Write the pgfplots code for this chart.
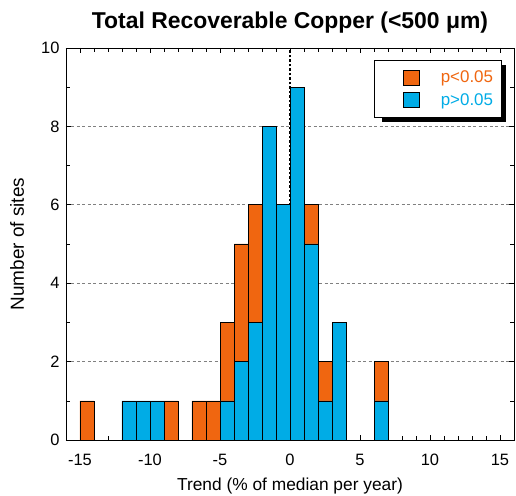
\documentclass[border=0pt]{standalone}
\usepackage{pgfplots}
\pgfplotsset{compat=1.18}
\usepackage{fontspec}
\setmainfont{Liberation Sans}
\pgfdeclarelayer{bg}
\pgfsetlayers{bg,main}
\definecolor{porange}{RGB}{240,102,16}
\definecolor{pblue}{RGB}{0,172,230}
\newcommand\mysq[1]{%
  \pgfpathmoveto{\pgfpoint{-23bp}{0bp}}\pgfpathlineto{\pgfpoint{16bp}{0bp}}\pgfusepath{discard}%
  \begin{pgfscope}\pgfsetfillcolor{#1}\pgfsetstrokecolor{black}\pgfsetlinewidth{0.6pt}%
  \pgfpathrectangle{\pgfpoint{0bp}{-7.5bp}}{\pgfpoint{16bp}{15bp}}\pgfusepath{fill,stroke}\end{pgfscope}}
\begin{document}
\begin{tikzpicture}[x=1bp,y=1bp]
\begin{axis}[
  name=ax,
  scale only axis,
  width=448bp, height=392bp,
  xmin=-16, xmax=16, ymin=0, ymax=10,
  xtick={-15,-10,-5,0,5,10,15},
  xticklabels={-15,-10,-5,0,5,10,15},
  ytick={0,2,4,6,8,10},
  yticklabels={0,2,4,6,8,10},
  minor x tick num=4,
  minor y tick num=1,
  tick align=inside,
  major tick length=5bp,
  minor tick length=4bp,
  tick style={black, line width=0.6pt},
  axis line style={black, line width=0.8pt},
  ymajorgrids,
  grid style={dash pattern=on 3bp off 2.5bp, gray, line width=0.6pt},
  tick label style={font=\fontsize{16.5}{19}\selectfont},
  xticklabel style={anchor=base, yshift=-25bp},
  yticklabel style={anchor=east, xshift=-3bp},
  xlabel={Trend (\% of median per year)},
  ylabel={Number of sites},
  every axis x label/.style={at={(axis description cs:0.5,-0.1276)}, anchor=base, font=\fontsize{17.4}{20}\selectfont},
  every axis y label/.style={at={(axis description cs:-0.109,0.5)}, rotate=90, anchor=center, font=\fontsize{19}{22}\selectfont},
  title={\bfseries Total Recoverable Copper (<500 μm)},
  every axis title/.style={at={(axis description cs:0.5,1.064)}, anchor=center, font=\fontsize{23}{27}\selectfont},
  ybar stacked,
  bar width=1,
  legend style={at={(0.972,0.8214)}, anchor=south east, draw=black, line width=0.8pt, fill=white,
    font=\fontsize{17}{20}\selectfont, row sep=5bp, inner xsep=6bp, inner ysep=9bp,
    column sep=19bp, legend cell align=right},
]
\addlegendimage{legend image code/.code={\mysq{porange}}}
\addlegendentry{\textcolor{porange}{p<0.05}}
\addlegendimage{legend image code/.code={\mysq{pblue}}}
\addlegendentry{\textcolor{pblue}{p>0.05}}
\addplot[fill=pblue, draw=black, line width=0.6pt, forget plot] coordinates {
(-14.5,0) (-11.5,1) (-10.5,1) (-9.5,1) (-8.5,0) (-6.5,0) (-5.5,0) (-4.5,1) (-3.5,2)
(-2.5,3) (-1.5,8) (-0.5,6) (0.5,9) (1.5,5) (2.5,1) (3.5,3) (6.5,1)};
\addplot[fill=porange, draw=black, line width=0.6pt, forget plot] coordinates {
(-14.5,1) (-11.5,0) (-10.5,0) (-9.5,0) (-8.5,1) (-6.5,1) (-5.5,1) (-4.5,2) (-3.5,3)
(-2.5,3) (-1.5,0) (-0.5,0) (0.5,0) (1.5,1) (2.5,1) (3.5,0) (6.5,1)};
\draw[black, dash pattern=on 2.5bp off 2bp, line width=2bp] (axis cs:0,0) -- (axis cs:0,10);
\end{axis}
\begin{pgfonlayer}{bg}
\fill[black] ([shift={(-132bp,-74bp)}]ax.north east) rectangle ([shift={(-8.5bp,-17bp)}]ax.north east);
\end{pgfonlayer}
\pgfresetboundingbox
\path ([shift={(-66bp,-56bp)}]ax.south west) rectangle ([shift={(2bp,48bp)}]ax.north east);
\end{tikzpicture}
\end{document}
